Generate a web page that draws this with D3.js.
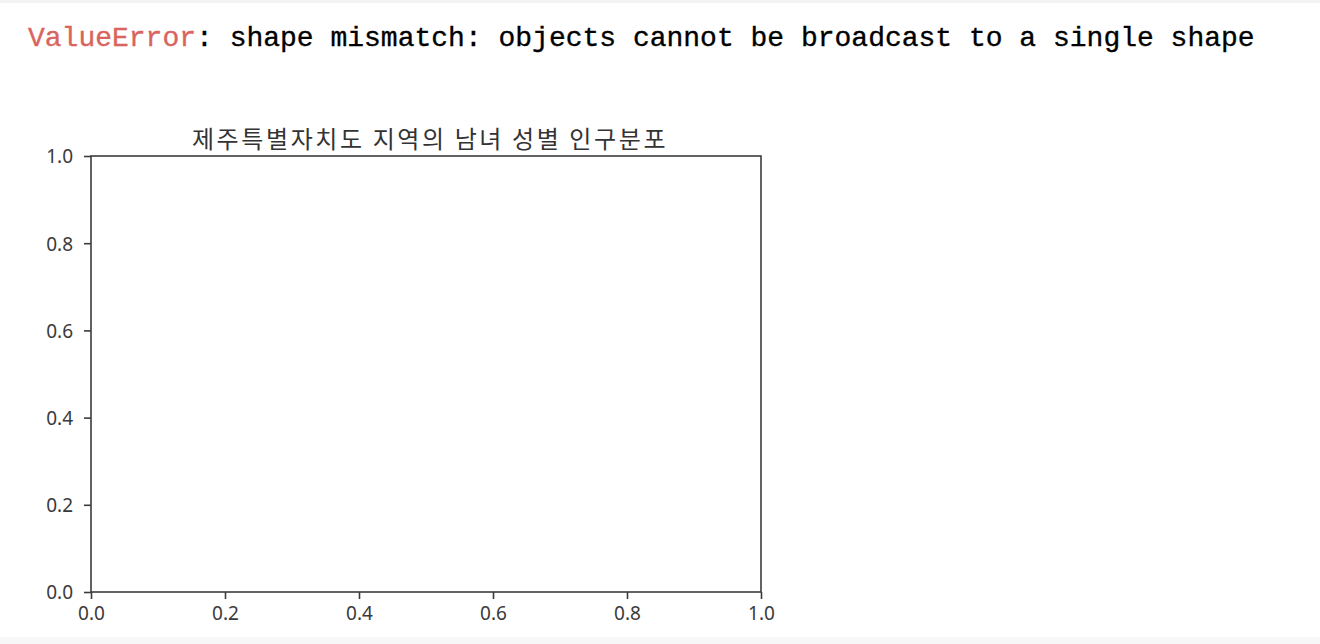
<!DOCTYPE html>
<html>
<head>
<meta charset="utf-8">
<script src="https://cdn.jsdelivr.net/npm/d3@7"></script>
<style>
  html, body { margin: 0; padding: 0; background: #fff; }
  svg { display: block; }
</style>
</head>
<body>
<svg id="chart" width="1320" height="644"></svg>
<script>
// ---- data (the source cell failed, so the axes are empty) ----
const errorType = "ValueError";
const errorMessage = ": shape mismatch: objects cannot be broadcast to a single shape";
const chartTitle = "제주특별자치도 지역의 남녀 성별 인구분포";
const xTicks = [0.0, 0.2, 0.4, 0.6, 0.8, 1.0];
const yTicks = [0.0, 0.2, 0.4, 0.6, 0.8, 1.0];
const xDomain = [0, 1];
const yDomain = [0, 1];

const svg = d3.select("#chart");

// page chrome bands
svg.append("rect").attr("x", 0).attr("y", 0).attr("width", 1320).attr("height", 3).attr("fill", "#f3f3f3");
svg.append("rect").attr("x", 0).attr("y", 637).attr("width", 1320).attr("height", 7).attr("fill", "#f7f7f7");

// error line
const err = svg.append("text")
  .attr("x", 28).attr("y", 46)
  .attr("font-family", "'Liberation Mono', 'DejaVu Sans Mono', monospace")
  .attr("font-size", 28)
  .attr("fill", "#000")
  .attr("stroke", "#000").attr("stroke-width", 0.35);
err.append("tspan").attr("fill", "#d9645f").attr("stroke", "#d9645f").text(errorType);
err.append("tspan").text(errorMessage);

// axes
const pLeft = 91, pRight = 761, pTop = 156, pBottom = 592;
const x = d3.scaleLinear().domain(xDomain).range([pLeft, pRight]);
const y = d3.scaleLinear().domain(yDomain).range([pBottom, pTop]);

const fmt = d3.format(".1f");
const tickFont = "'Noto Sans', 'Noto Sans CJK KR', sans-serif";
const axisColor = "#3c3c3c";

const gx = svg.append("g").attr("transform", `translate(0,${pBottom})`)
  .call(d3.axisBottom(x).tickValues(xTicks).tickFormat(fmt).tickSize(7).tickPadding(10).tickSizeOuter(0));
const gy = svg.append("g").attr("transform", `translate(${pLeft},0)`)
  .call(d3.axisLeft(y).tickValues(yTicks).tickFormat(fmt).tickSize(7).tickPadding(11).tickSizeOuter(0));

[gx, gy].forEach(g => {
  g.select(".domain").remove();
  g.selectAll(".tick line").attr("stroke", axisColor).attr("stroke-width", 1.6);
  g.selectAll(".tick text").attr("fill", "#3a3a3a").attr("font-family", tickFont).attr("font-size", 19);
});
gy.selectAll(".tick text").attr("dy", "0.36em");
gx.selectAll(".tick text").attr("dy", "0.6em");

// frame (spines)
svg.append("rect")
  .attr("x", pLeft).attr("y", pTop)
  .attr("width", pRight - pLeft).attr("height", pBottom - pTop)
  .attr("fill", "none").attr("stroke", axisColor).attr("stroke-width", 1.6);

// title
svg.append("text")
  .attr("x", (pLeft + pRight) / 2 + 4).attr("y", pTop - 8)
  .attr("text-anchor", "middle")
  .attr("font-family", "'Noto Sans CJK KR', sans-serif")
  .attr("font-size", 24)
  .attr("letter-spacing", 2.6)
  .attr("fill", "#333")
  .text(chartTitle);
</script>
</body>
</html>
